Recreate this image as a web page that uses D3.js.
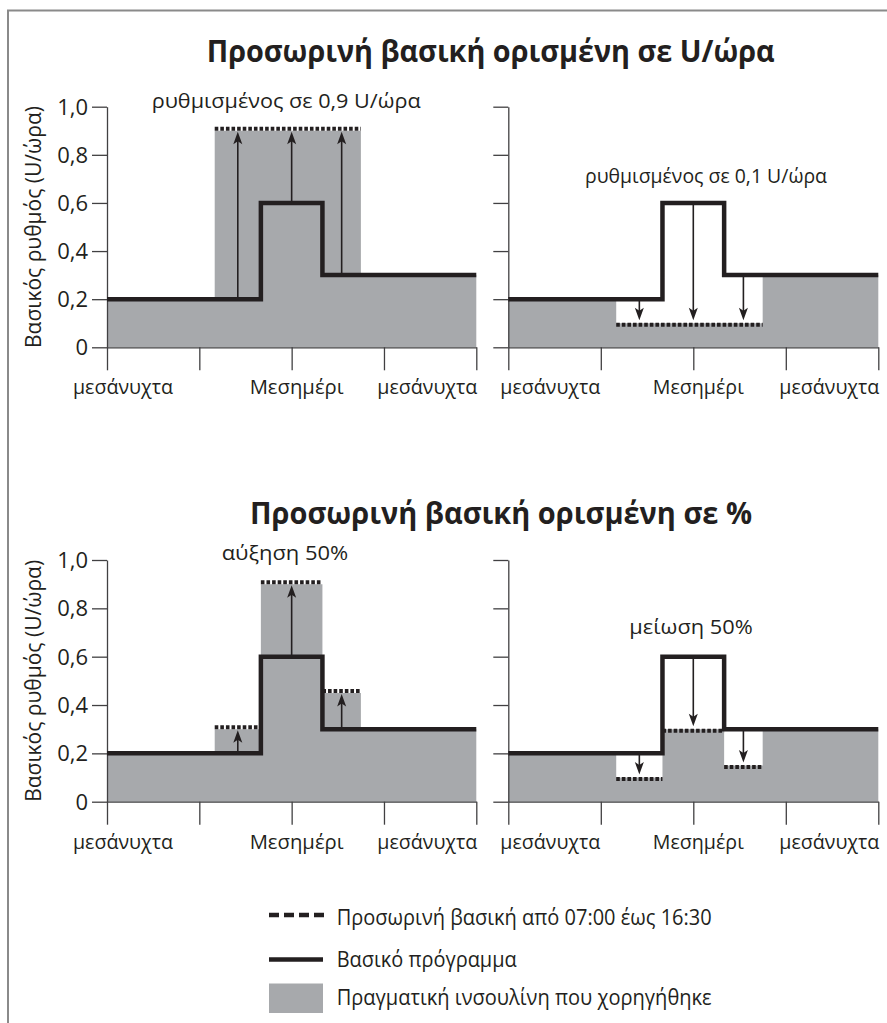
<!DOCTYPE html>
<html><head><meta charset="utf-8">
<script src="https://cdn.jsdelivr.net/npm/d3@7"></script>
<style>
body{margin:0;background:#fff}
svg{display:block}
text{font-family:"Open Sans",sans-serif;fill:#231f20}
</style>
</head><body><svg id="c" width="887" height="1023"></svg>
<script>
// ---------- data ----------
const xTickHours = [0, 6, 12, 18, 24];
const xTickLabels = ["μεσάνυχτα", "", "Μεσημέρι", "", "μεσάνυχτα"];
const yTickValues = [0, 0.2, 0.4, 0.6, 0.8, 1.0];
const yTickLabels = ["0", "0,2", "0,4", "0,6", "0,8", "1,0"];
const basalTimes = [0, 10, 14, 24];
const basalRates = [0.2, 0.6, 0.3];
const tempTimes = [7, 10, 14, 16.5];
const tempUnitsUp = [0.9, 0.9, 0.9];
const tempUnitsDown = [0.1, 0.1, 0.1];
const tempPercentUp = [0.3, 0.9, 0.45];
const tempPercentDown = [0.1, 0.3, 0.15];
const arrowHours = [8.5, 12, 15.25];
const titles = ["Προσωρινή βασική ορισμένη σε U/ώρα", "Προσωρινή βασική ορισμένη σε %"];
const annotations = ["ρυθμισμένος σε 0,9 U/ώρα", "ρυθμισμένος σε 0,1 U/ώρα", "αύξηση 50%", "μείωση 50%"];
const yAxisTitle = "Βασικός ρυθμός (U/ώρα)";
const legendLabels = ["Προσωρινή βασική από 07:00 έως 16:30", "Βασικό πρόγραμμα", "Πραγματική ινσουλίνη που χορηγήθηκε"];

// ---------- style / layout ----------
const GRAY = "#a7a9ac", INK = "#231f20", AXIS = "#414042", FRAME = "#8a8a8a";
const svg = d3.select("#c");

svg.append("path").attr("d", "M7,10.5H887M8,10V1023").attr("fill", "none")
  .attr("stroke", FRAME).attr("stroke-width", 2);

function fitText(sel, w) { return sel.attr("textLength", w).attr("lengthAdjust", "spacingAndGlyphs"); }

// titles
fitText(svg.append("text").attr("x", 206.7).attr("y", 62).attr("font-size", 30.5).attr("font-weight", 700).text(titles[0]), 568);
fitText(svg.append("text").attr("x", 250).attr("y", 523.5).attr("font-size", 30.5).attr("font-weight", 700).text(titles[1]), 502);

const panels = [
  {temp: tempUnitsUp, x0: 107, x1: 476.3, yb: 347.3, yt: 106.7, ticks: true, lab0dx: -34, midW: 94,
   ann: {text: annotations[0], x: 151.7, y: 108, w: 269}},
  {temp: tempUnitsDown, x0: 508.3, x1: 878.3, yb: 347.3, yt: 106.7, ticks: false, lab0dx: -8, midW: 91,
   ann: {text: annotations[1], x: 585, y: 182.5, w: 242}},
  {temp: tempPercentUp, x0: 107, x1: 476.3, yb: 801.7, yt: 560, ticks: true, lab0dx: -34, midW: 94,
   ann: {text: annotations[2], x: 221.7, y: 559.5, w: 126.6}},
  {temp: tempPercentDown, x0: 508.3, x1: 878.3, yb: 801.7, yt: 560, ticks: false, lab0dx: -8, midW: 91,
   ann: {text: annotations[3], x: 629.3, y: 634, w: 123.4}}
];

panels.forEach(p => {
  const x = d3.scaleLinear().domain([0, 24]).range([p.x0, p.x1]);
  const y = d3.scaleLinear().domain([0, 1]).range([p.yb, p.yt]);
  const g = svg.append("g");

  const basalAt = t => basalRates[Math.min(d3.bisectRight(basalTimes, t) - 1, basalRates.length - 1)];
  const tempAt = t => (t >= tempTimes[0] && t < tempTimes[tempTimes.length - 1])
    ? p.temp[d3.bisectRight(tempTimes, t) - 1] : null;

  // delivered insulin (gray area)
  const bps = Array.from(new Set([...basalTimes, ...tempTimes])).sort((a, b) => a - b);
  const delivered = bps.slice(0, -1).map((t, i) => {
    const m = (t + bps[i + 1]) / 2; const tv = tempAt(m);
    return [t, tv != null ? tv : basalAt(m)];
  });
  delivered.push([bps[bps.length - 1], delivered[delivered.length - 1][1]]);
  const area = d3.area().x(d => x(d[0])).y0(y(0)).y1(d => y(d[1])).curve(d3.curveStepAfter);
  g.append("path").attr("d", area(delivered)).attr("fill", GRAY);

  // axes
  const yAxis = d3.axisLeft(y).tickValues(yTickValues).tickSize(15).tickSizeOuter(0).tickPadding(4)
    .tickFormat((d, i) => p.ticks ? yTickLabels[i] : "");
  g.append("g").attr("transform", `translate(${p.x0},0)`).call(yAxis)
    .attr("font-size", 22).attr("font-family", "Open Sans, sans-serif")
    .call(a => {
      a.select(".domain").attr("stroke", AXIS).attr("stroke-width", 1.3);
      a.selectAll(".tick line").attr("stroke", AXIS).attr("stroke-width", 1.3);
      a.selectAll(".tick text").attr("fill", INK).attr("dy", "0.34em");
    });
  const xAxis = d3.axisBottom(x).tickValues(xTickHours).tickSize(23).tickSizeOuter(0).tickFormat("");
  g.append("g").attr("transform", `translate(0,${p.yb})`).call(xAxis)
    .call(a => {
      a.select(".domain").attr("stroke", AXIS).attr("stroke-width", 1.3);
      a.selectAll(".tick line").attr("stroke", AXIS).attr("stroke-width", 1.3);
    });

  // x labels
  const ly = p.yb + 47;
  xTickLabels.forEach((lab, i) => {
    if (!lab) return;
    const h = xTickHours[i];
    let t;
    if (i === 0) t = g.append("text").attr("x", x(h) + p.lab0dx).attr("text-anchor", "start");
    else if (i === xTickLabels.length - 1) t = g.append("text").attr("x", x(h) + 1).attr("text-anchor", "end");
    else t = g.append("text").attr("x", x(h) + 5).attr("text-anchor", "middle");
    t.attr("y", ly).attr("font-size", 20.5).text(lab);
    fitText(t, i === 2 ? p.midW : 100);
  });

  // y axis title
  if (p.ticks) {
    fitText(g.append("text").attr("transform", `translate(41,${(p.yb + p.yt) / 2}) rotate(-90)`)
      .attr("text-anchor", "middle").attr("font-size", 22).text(yAxisTitle), 242);
  }

  // dotted temp basal lines (merge equal consecutive values)
  const groups = [];
  p.temp.forEach((v, i) => {
    const last = groups[groups.length - 1];
    if (last && last.v === v) last.t1 = tempTimes[i + 1];
    else groups.push({v, t0: tempTimes[i], t1: tempTimes[i + 1], up: v > basalAt((tempTimes[i] + tempTimes[i + 1]) / 2)});
  });
  groups.forEach(gr => {
    const yy = y(gr.v) + (gr.up ? -2 : 1.5);
    g.append("line").attr("x1", x(gr.t0)).attr("x2", x(gr.t1)).attr("y1", yy).attr("y2", yy)
      .attr("stroke", INK).attr("stroke-width", 4).attr("stroke-dasharray", "3.6 2");
  });

  // arrows
  arrowHours.forEach(h => {
    const b = basalAt(h), tv = tempAt(h);
    const up = tv > b;
    const tipY = y(tv) + (up ? 1 : -3);
    const dir = up ? 1 : -1;
    g.append("line").attr("x1", x(h)).attr("x2", x(h)).attr("y1", y(b)).attr("y2", tipY + dir * 8)
      .attr("stroke", INK).attr("stroke-width", 1.6);
    const hx = x(h);
    g.append("path").attr("d",
      `M${hx},${tipY}L${hx + 4.5},${tipY + dir * 12.5}L${hx},${tipY + dir * 9.5}L${hx - 4.5},${tipY + dir * 12.5}Z`)
      .attr("fill", INK);
  });

  // basal program line
  const basalPts = basalRates.map((r, i) => [basalTimes[i], r]);
  basalPts.push([basalTimes[basalTimes.length - 1], basalRates[basalRates.length - 1]]);
  const line = d3.line().x(d => x(d[0])).y(d => y(d[1])).curve(d3.curveStepAfter);
  g.append("path").attr("d", line(basalPts)).attr("fill", "none").attr("stroke", INK)
    .attr("stroke-width", 4.5).attr("stroke-linejoin", "miter");

  // annotation
  fitText(g.append("text").attr("x", p.ann.x).attr("y", p.ann.y).attr("font-size", 19.5).text(p.ann.text), p.ann.w);
});

// ---------- legend ----------
const lg = svg.append("g");
lg.append("line").attr("x1", 269).attr("x2", 324).attr("y1", 915).attr("y2", 915)
  .attr("stroke", INK).attr("stroke-width", 4.5).attr("stroke-dasharray", "10 5");
lg.append("line").attr("x1", 269).attr("x2", 323).attr("y1", 959.5).attr("y2", 959.5)
  .attr("stroke", INK).attr("stroke-width", 4.5);
lg.append("rect").attr("x", 269).attr("y", 983.5).attr("width", 54).attr("height", 29.5).attr("fill", GRAY);
const legY = [925, 967, 1005], legW = [375, 180, 375];
legendLabels.forEach((l, i) => {
  fitText(lg.append("text").attr("x", 336.7).attr("y", legY[i]).attr("font-size", 21).text(l), legW[i]);
});
</script>
</body></html>
